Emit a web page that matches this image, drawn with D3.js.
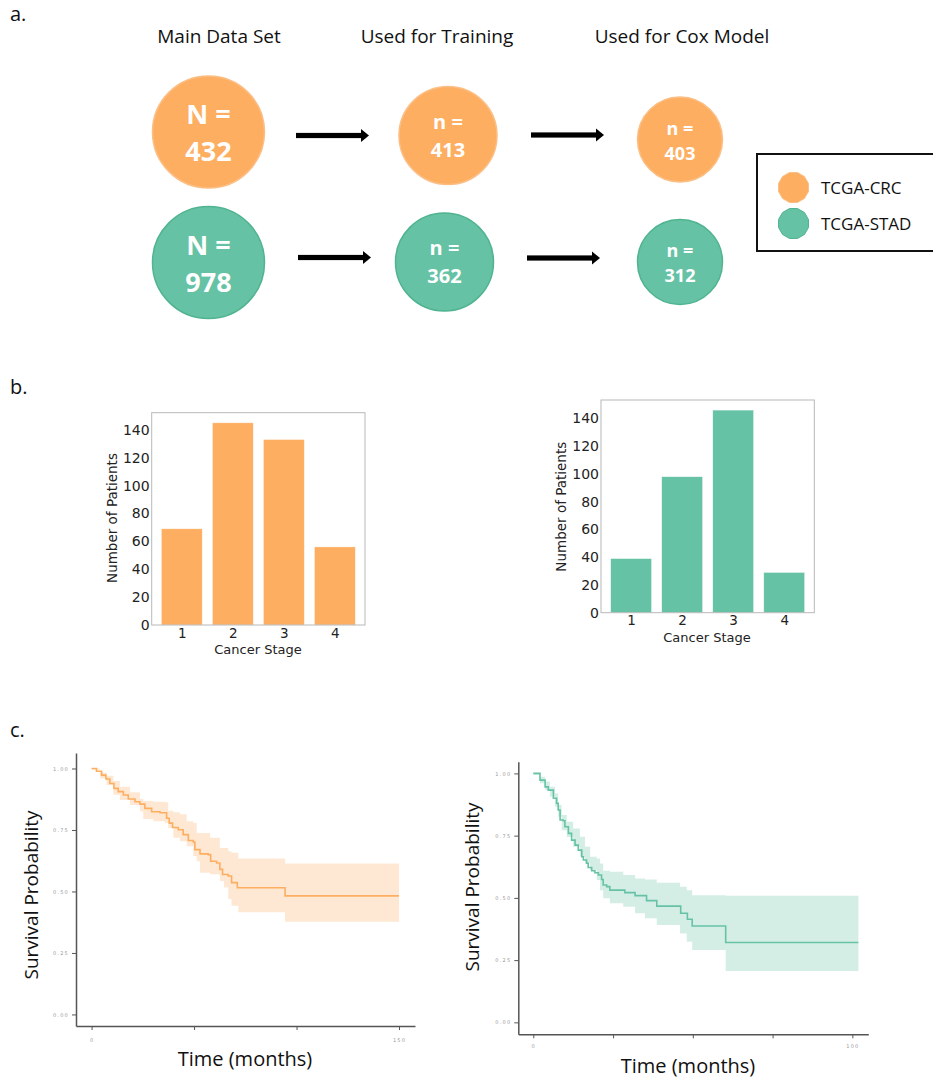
<!DOCTYPE html>
<html><head><meta charset="utf-8">
<script src="https://cdn.jsdelivr.net/npm/d3@7"></script>
<style>
html,body{margin:0;padding:0;background:#fff;}
svg{display:block;}
</style></head>
<body>
<svg id="fig" width="933" height="1080"></svg>
<script>
// ---------------- DATA ----------------
const stageTitles = ["Main Data Set", "Used for Training", "Used for Cox Model"];
const countPrefix = ["N =", "n =", "n ="];
const crcCounts = [432, 413, 403];
const stadCounts = [978, 362, 312];
const legendLabels = ["TCGA-CRC", "TCGA-STAD"];

const cancerStages = [1, 2, 3, 4];
const crcStageCounts = [69, 145, 133, 56];
const stadStageCounts = [39, 98, 146, 29];
const barYTicks = [0, 20, 40, 60, 80, 100, 120, 140];

// Kaplan-Meier, CRC (time in months, survival probability)
const crcTime = [0, 2.4, 4.9, 7.0, 8.9, 10.9, 13.0, 15.5, 17.9, 21.2, 23.6, 26.0, 29.3, 33.4, 36.6, 37.9, 39.5, 42.3, 44.7, 47.2, 49.6, 50.4, 52.9, 56.9, 58.1, 61.0, 62.6, 63.9, 66.7, 68.3, 71.1, 94.4, 150];
const crcSurv = [1.0, 0.989, 0.973, 0.957, 0.939, 0.919, 0.906, 0.892, 0.876, 0.865, 0.855, 0.838, 0.824, 0.820, 0.798, 0.778, 0.760, 0.751, 0.731, 0.707, 0.701, 0.670, 0.653, 0.650, 0.623, 0.616, 0.590, 0.569, 0.563, 0.536, 0.515, 0.482, 0.482];
const crcCiTime = [0, 4.1, 7.3, 10.6, 13.8, 18.7, 23.6, 25.2, 30.1, 35.8, 37.4, 39.9, 43.1, 46.4, 49.6, 51.3, 52.9, 57.8, 62.6, 64.6, 66.7, 68.3, 71.6, 94.4, 150];
const crcCiLow = [0.995, 0.960, 0.933, 0.893, 0.872, 0.852, 0.825, 0.795, 0.785, 0.778, 0.758, 0.718, 0.704, 0.684, 0.644, 0.623, 0.576, 0.570, 0.543, 0.516, 0.469, 0.442, 0.415, 0.377, 0.377];
const crcCiHigh = [1.0, 0.984, 0.970, 0.949, 0.926, 0.903, 0.876, 0.868, 0.865, 0.863, 0.828, 0.822, 0.814, 0.785, 0.778, 0.738, 0.738, 0.718, 0.677, 0.677, 0.664, 0.657, 0.634, 0.614, 0.614];
const crcXTicks = [0, 50, 100, 150];
const crcXTickLabels = ["0", "", "", "150"];

// Kaplan-Meier, STAD
const stadTime = [0, 2.1, 3.7, 4.7, 6.3, 7.3, 7.8, 8.4, 9.4, 9.9, 11.0, 12.0, 13.1, 14.1, 15.2, 15.7, 16.7, 17.2, 18.3, 19.3, 20.4, 21.4, 21.9, 23.0, 24.0, 28.7, 31.9, 35.5, 38.7, 46.2, 48.3, 49.8, 60.3, 101.9];
const stadSurv = [1.0, 0.973, 0.946, 0.933, 0.900, 0.880, 0.853, 0.813, 0.810, 0.786, 0.759, 0.732, 0.712, 0.692, 0.665, 0.652, 0.639, 0.622, 0.609, 0.601, 0.592, 0.574, 0.552, 0.545, 0.531, 0.521, 0.509, 0.489, 0.467, 0.438, 0.414, 0.387, 0.321, 0.321];
const stadCiTime = [0, 2.1, 3.7, 5.2, 6.8, 7.8, 8.9, 10.5, 12.5, 14.6, 16.2, 17.8, 19.9, 20.9, 21.9, 24.0, 28.2, 31.9, 35.0, 38.7, 46.0, 48.1, 49.8, 60.3, 101.9];
const stadCiLow = [0.995, 0.960, 0.933, 0.906, 0.866, 0.826, 0.772, 0.745, 0.705, 0.665, 0.639, 0.612, 0.572, 0.531, 0.498, 0.478, 0.464, 0.438, 0.418, 0.391, 0.357, 0.324, 0.291, 0.206, 0.206];
const stadCiHigh = [1.0, 0.987, 0.967, 0.946, 0.920, 0.873, 0.833, 0.806, 0.779, 0.746, 0.705, 0.665, 0.658, 0.638, 0.609, 0.605, 0.592, 0.578, 0.574, 0.561, 0.545, 0.531, 0.511, 0.509, 0.509];
const stadXTicks = [0, 25, 50, 75, 100];
const stadXTickLabels = ["0", "", "", "", "100"];

const survTicks = [0, 0.25, 0.5, 0.75, 1.0];

// ---------------- STYLE ----------------
const ORANGE = "#fdae61", GREEN = "#66c2a5";
const ORANGE_EDGE = "#fbbf86", GREEN_EDGE = "#4fb48f";
const UI_FONT = "'Open Sans', 'Noto Sans', sans-serif";
const MPL_FONT = "'DejaVu Sans', sans-serif";

const svg = d3.select("#fig");

// panel letters
[["a.", 21], ["b.", 394], ["c.", 737]].forEach(([t, y]) => {
  svg.append("text").attr("x", 10).attr("y", y).text(t)
    .attr("font-family", UI_FONT).attr("font-size", 20).attr("fill", "#111");
});

// ---------------- PANEL A ----------------
const colX = [219, 437, 682];
stageTitles.forEach((t, i) => {
  svg.append("text").attr("x", colX[i]).attr("y", 43).attr("text-anchor", "middle")
    .attr("font-family", UI_FONT).attr("font-size", 19).attr("fill", "#111").text(t);
});

const circleLayout = [
  {cx: [208.5, 448, 680], cy: [132, 135.5, 139.5]},
  {cx: [208.5, 444.5, 680], cy: [262.5, 262, 262]}
];
const colR = [56, 49, 42.5];
const colFont = [27, 20, 18];
const colOffsets = [[-8, 29], [-7, 21], [-5, 20]];

function drawRow(counts, layout, fill, edge) {
  counts.forEach((n, i) => {
    const g = svg.append("g").attr("transform", `translate(${layout.cx[i]},${layout.cy[i]})`);
    g.append("circle").attr("r", colR[i]).attr("fill", fill).attr("stroke", edge).attr("stroke-width", 1.5);
    g.append("text").attr("y", colOffsets[i][0]).attr("text-anchor", "middle")
      .attr("font-family", UI_FONT).attr("font-weight", 700).attr("font-size", colFont[i])
      .attr("fill", "#fff").text(countPrefix[i]);
    g.append("text").attr("y", colOffsets[i][1]).attr("text-anchor", "middle")
      .attr("font-family", UI_FONT).attr("font-weight", 700).attr("font-size", colFont[i])
      .attr("fill", "#fff").text(n);
  });
}
drawRow(crcCounts, circleLayout[0], ORANGE, ORANGE_EDGE);
drawRow(stadCounts, circleLayout[1], GREEN, GREEN_EDGE);

function arrow(x1, x2, y) {
  svg.append("rect").attr("x", x1).attr("y", y - 2.6).attr("width", x2 - x1 - 6).attr("height", 5.2).attr("fill", "#000");
  svg.append("path").attr("d", `M${x2 - 8},${y - 6.5} L${x2},${y} L${x2 - 8},${y + 6.5} Z`).attr("fill", "#000");
}
arrow(296, 369, 135.5);
arrow(531, 604, 135);
arrow(298, 371, 257.5);
arrow(527, 600, 258);

// legend
svg.append("rect").attr("x", 757).attr("y", 154).attr("width", 190).attr("height", 97)
  .attr("fill", "#fff").attr("stroke", "#111").attr("stroke-width", 2);
function polygon(cx, cy, r, n) {
  const pts = d3.range(n).map(k => {
    const a = Math.PI * 2 * k / n + Math.PI / n;
    return [cx + r * Math.cos(a), cy + r * Math.sin(a)];
  });
  return "M" + pts.map(p => p.join(",")).join("L") + "Z";
}
legendLabels.forEach((lab, i) => {
  const cy = [187.5, 223.5][i];
  svg.append("path").attr("d", polygon(793.5, cy, 15.5, 12))
    .attr("fill", i === 0 ? ORANGE : GREEN).attr("stroke", i === 0 ? ORANGE_EDGE : GREEN_EDGE).attr("stroke-width", 1);
  svg.append("text").attr("x", 821).attr("y", cy + 6).attr("font-family", UI_FONT)
    .attr("font-size", 17).attr("fill", "#111").text(lab);
});

// ---------------- PANEL B ----------------
function barChart(opts) {
  const {left, right, top, bottom, values, color, ylabX, ylabY, xlabX, xlabY} = opts;
  const g = svg.append("g");
  const x = d3.scaleLinear().domain([0.41, 4.59]).range([left, right]);
  const y = d3.scaleLinear().domain([0, d3.max(values) * 1.05]).range([bottom, top]);
  g.selectAll("rect.bar").data(cancerStages).join("rect")
    .attr("class", "bar")
    .attr("x", d => x(d - 0.4)).attr("width", d => x(d + 0.4) - x(d - 0.4))
    .attr("y", (d, i) => y(values[i])).attr("height", (d, i) => y(0) - y(values[i]))
    .attr("fill", color).attr("stroke", "#fff").attr("stroke-width", 0.6).attr("stroke-opacity", 0.6);
  g.append("rect").attr("x", left).attr("y", top).attr("width", right - left).attr("height", bottom - top)
    .attr("fill", "none").attr("stroke", "#b8b8b8").attr("stroke-width", 1);
  const ya = g.append("g").attr("transform", `translate(${left},0)`)
    .call(d3.axisLeft(y).tickValues(barYTicks).tickSize(0).tickPadding(2));
  ya.select(".domain").remove();
  ya.selectAll("text").attr("font-family", MPL_FONT).attr("font-size", 14).attr("fill", "#222");
  const xa = g.append("g").attr("transform", `translate(0,${bottom})`)
    .call(d3.axisBottom(x).tickValues(cancerStages).tickFormat(d3.format("d")).tickSize(0).tickPadding(3));
  xa.select(".domain").remove();
  xa.selectAll("text").attr("font-family", MPL_FONT).attr("font-size", 13.5).attr("fill", "#222");
  g.append("text").attr("transform", `translate(${ylabX},${ylabY}) rotate(-90)`).attr("text-anchor", "middle")
    .attr("dy", "0.35em").attr("font-family", MPL_FONT).attr("font-size", 13.5).attr("fill", "#222").text("Number of Patients");
  g.append("text").attr("x", xlabX).attr("y", xlabY).attr("text-anchor", "middle")
    .attr("font-family", MPL_FONT).attr("font-size", 13).attr("fill", "#222").text("Cancer Stage");
}
barChart({left: 151.7, right: 365, top: 412.7, bottom: 625, values: crcStageCounts, color: ORANGE,
  ylabX: 112.7, ylabY: 518, xlabX: 258, xlabY: 654});
barChart({left: 601, right: 814.3, top: 400, bottom: 612.7, values: stadStageCounts, color: GREEN,
  ylabX: 561.7, ylabY: 506.7, xlabX: 707, xlabY: 642});

// ---------------- PANEL C ----------------
function kmPlot(opts) {
  const {xDomain, xRange, yDomain, yRange, time, surv, ciT, ciL, ciH, color, xTicks, xLabels, ylabX, ylabY, xlabX, xlabY, xLabPad} = opts;
  const g = svg.append("g");
  const x = d3.scaleLinear().domain(xDomain).range(xRange);
  const y = d3.scaleLinear().domain(yDomain).range(yRange);
  const band = d3.area().curve(d3.curveStepAfter)
    .x((d, i) => x(ciT[i])).y0((d, i) => y(ciL[i])).y1((d, i) => y(ciH[i]));
  g.append("path").attr("d", band(ciT)).attr("fill", color).attr("fill-opacity", 0.28);
  const line = d3.line().curve(d3.curveStepAfter).x((d, i) => x(time[i])).y((d, i) => y(surv[i]));
  g.append("path").attr("d", line(time)).attr("fill", "none").attr("stroke", color).attr("stroke-width", 1.6);

  const ya = g.append("g").attr("transform", `translate(${xRange[0]},0)`)
    .call(d3.axisLeft(y).tickValues(survTicks).tickFormat(d3.format(".2f")).tickSize(4).tickSizeOuter(0).tickPadding(3));
  ya.select(".domain").attr("stroke", "#555").attr("stroke-width", 1.5);
  ya.selectAll(".tick line").attr("stroke", "#555").attr("stroke-width", 1);
  ya.selectAll("text").attr("font-family", MPL_FONT).attr("font-size", 5).attr("letter-spacing", 1.2).attr("fill", "#9a9a9a");

  const xa = g.append("g").attr("transform", `translate(0,${yRange[0]})`)
    .call(d3.axisBottom(x).tickValues(xTicks).tickFormat((d, i) => xLabels[i]).tickSize(4).tickSizeOuter(0).tickPadding(xLabPad));
  xa.select(".domain").attr("stroke", "#555").attr("stroke-width", 1.5);
  xa.selectAll(".tick line").attr("stroke", "#555").attr("stroke-width", 1);
  xa.selectAll("text").attr("font-family", MPL_FONT).attr("font-size", 5).attr("letter-spacing", 1.2).attr("fill", "#9a9a9a");

  g.append("text").attr("transform", `translate(${ylabX},${ylabY}) rotate(-90)`).attr("text-anchor", "middle")
    .attr("dy", "0.35em").attr("font-family", UI_FONT).attr("font-size", 19).attr("fill", "#111").text("Survival Probability");
  g.append("text").attr("x", xlabX).attr("y", xlabY).attr("text-anchor", "middle")
    .attr("font-family", UI_FONT).attr("font-size", 20).attr("fill", "#111").text("Time (months)");
}
kmPlot({xDomain: [-7.6, 157.8], xRange: [76, 415], yDomain: [-0.047, 1.063], yRange: [1026, 753],
  time: crcTime, surv: crcSurv, ciT: crcCiTime, ciL: crcCiLow, ciH: crcCiHigh, color: ORANGE,
  xTicks: crcXTicks, xLabels: crcXTickLabels, ylabX: 31, ylabY: 895, xlabX: 245, xlabY: 1066, xLabPad: 8});
kmPlot({xDomain: [-4.7, 105], xRange: [518.3, 868.3], yDomain: [-0.048, 1.047], yRange: [1034.3, 761.7],
  time: stadTime, surv: stadSurv, ciT: stadCiTime, ciL: stadCiLow, ciH: stadCiHigh, color: GREEN,
  xTicks: stadXTicks, xLabels: stadXTickLabels, ylabX: 472, ylabY: 887, xlabX: 688, xlabY: 1073, xLabPad: 6});
</script>
</body></html>
